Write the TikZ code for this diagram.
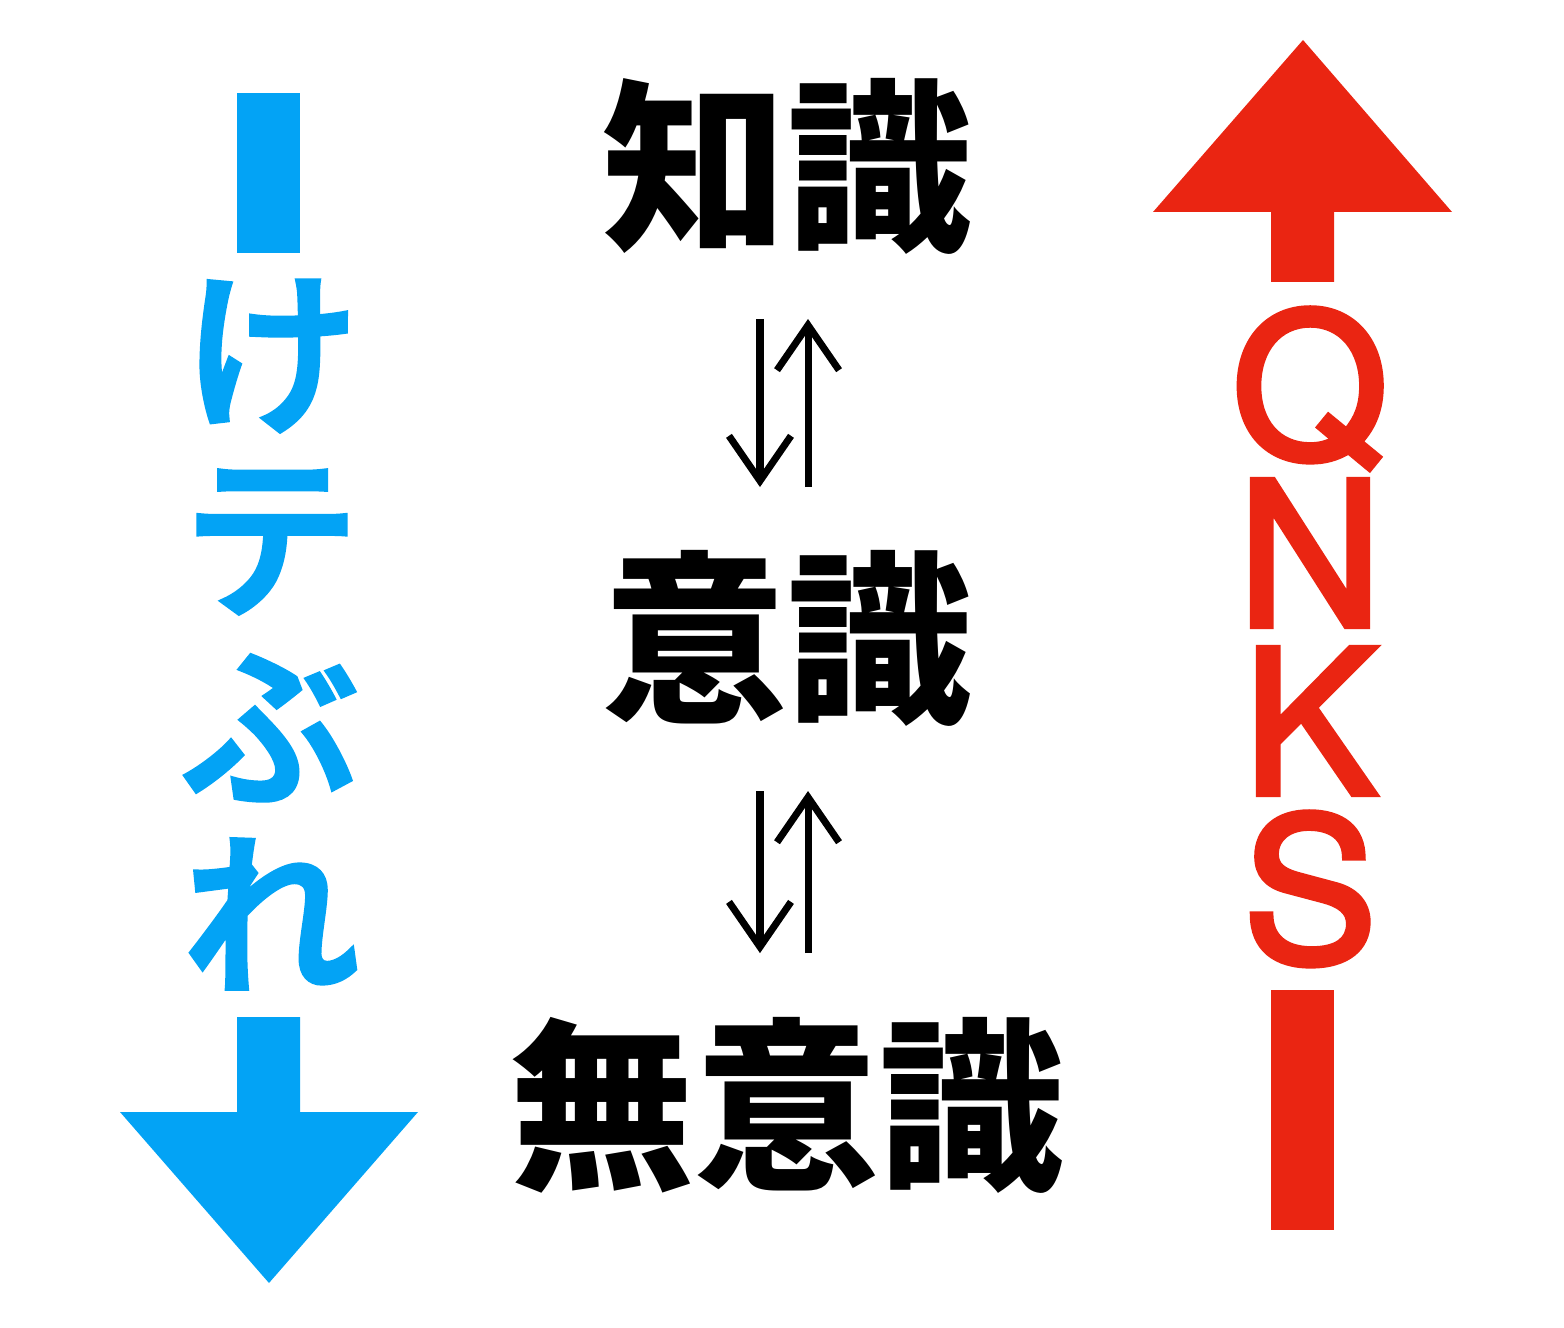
\documentclass[tikz,border=0pt]{standalone}
\usepackage{fontspec}
\usepackage{tikz}
\usepackage{xcolor}
\usetikzlibrary{positioning,arrows.meta,calc}
\newfontfamily\jpfont{Noto Sans CJK JP}
\newfontfamily\jpmedium[FakeBold=3]{Noto Sans CJK JP Medium}
\newfontfamily\qnksfont[FakeBold=3]{TeX Gyre Heros}
\definecolor{kteblue}{RGB}{3,163,245}
\definecolor{qnksred}{RGB}{234,37,18}

\begin{document}
\begin{tikzpicture}[x=0.01cm,y=-0.01cm,
    term/.style={inner sep=0pt,font=\jpfont\bfseries\fontsize{52.6}{52.6}\selectfont},
    kana/.style={inner sep=0pt,text=kteblue,font=\jpmedium\fontsize{50}{50}\selectfont},
    letter/.style={inner sep=0pt,anchor=base,text height=1.45cm,text depth=0.1cm,
        text=qnksred,font=\qnksfont\fontsize{57}{57}\selectfont},
    flow/.style={line width=2pt,-{Straight Barb[length=4.5mm,width=6.2mm]},shorten <=6.3mm,shorten >=6.3mm}]
    \useasboundingbox (0,0) rectangle (1564,1328);
    % three levels
    \node[term] (chishiki) at (787,167) {知識};
    \node[term,below=2.94cm of chishiki] (ishiki) {意識};
    \node[term,below=2.88cm of ishiki] (muishiki) {無意識};
    \draw[flow] ([xshift=-0.27cm]chishiki.south) -- ([xshift=-0.27cm]ishiki.north);
    \draw[flow] ([xshift=0.21cm]ishiki.north) -- ([xshift=0.21cm]chishiki.south);
    \draw[flow] ([xshift=-0.27cm]ishiki.south) -- ([xshift=-0.27cm]muishiki.north);
    \draw[flow] ([xshift=0.21cm]muishiki.north) -- ([xshift=0.21cm]ishiki.south);
    % left: downwards
    \fill[kteblue] (237,93) rectangle (300,253);
    \foreach \ch [count=\i] in {け,テ,ぶ,れ}
        \node[kana] (kana\i) at (271,170+186*\i) {\ch};
    \fill[kteblue] (237,1017) -- (300,1017) -- (300,1112) -- (418,1112) -- (269,1283)
        -- (120,1112) -- (237,1112) -- cycle;
    % right: upwards
    \fill[qnksred] (1303,40) -- (1452,212) -- (1334,212) -- (1334,282) -- (1271,282)
        -- (1271,212) -- (1153,212) -- cycle;
    \foreach \ch [count=\i] in {Q,N,K,S}
        \node[letter] (qnks\i) at (1310,290+168*\i) {\ch};
    \fill[qnksred] (1271,990) rectangle (1334,1230);
\end{tikzpicture}
\end{document}
